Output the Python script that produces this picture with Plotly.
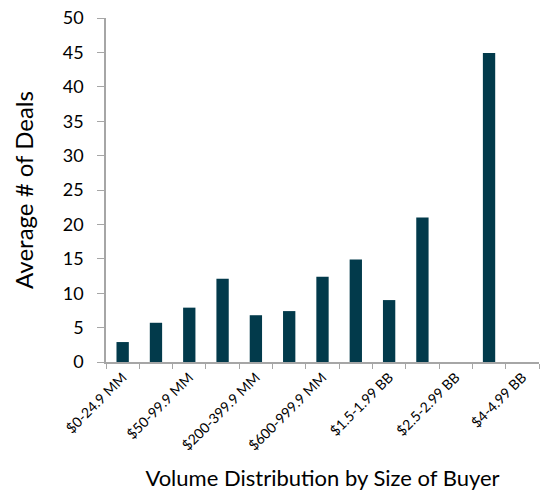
import plotly.graph_objects as go

# Buyer size buckets (every other label is shown on the axis)
categories = [
    "$0-24.9 MM", "$25-49.9 MM", "$50-99.9 MM", "$100-199.9 MM",
    "$200-399.9 MM", "$400-599.9 MM", "$600-999.9 MM", "$1-1.49 BB",
    "$1.5-1.99 BB", "$2-2.49 BB", "$2.5-2.99 BB", "$3-3.99 BB", "$4-4.99 BB",
]
avg_deals = [2.9, 5.7, 7.9, 12.1, 6.8, 7.4, 12.4, 14.9, 9.0, 21.0, None, 44.9, None]
tick_text = [c if i % 2 == 0 else "" for i, c in enumerate(categories)]

bar_color = "#023a4b"
axis_color = "#a6a6a6"
font_family = "Lato, Calibri, Carlito, sans-serif"

fig = go.Figure(
    go.Bar(
        x=categories,
        y=avg_deals,
        marker=dict(color=bar_color, line=dict(width=0)),
    )
)

fig.update_layout(
    width=544,
    height=491,
    margin=dict(l=106, r=5, t=18, b=129),
    paper_bgcolor="white",
    plot_bgcolor="white",
    bargap=0.63,
    showlegend=False,
    font=dict(family=font_family, color="#000000"),
)

fig.update_xaxes(
    type="category",
    tickmode="array",
    tickvals=categories,
    ticktext=tick_text,
    tickson="boundaries",
    tickangle=-45,
    ticks="outside",
    ticklen=5,
    tickcolor=axis_color,
    tickfont=dict(size=14, family=font_family),
    showline=True,
    linecolor=axis_color,
    linewidth=1.5,
    showgrid=False,
    automargin=False,
    title=dict(text="Volume Distribution by Size of Buyer",
               font=dict(size=22, family=font_family), standoff=22),
)

fig.update_yaxes(
    range=[0, 50],
    dtick=5,
    ticks="outside",
    ticklen=7,
    tickcolor=axis_color,
    tickfont=dict(size=18, family=font_family),
    ticklabelstandoff=10,
    showline=True,
    linecolor=axis_color,
    linewidth=1.5,
    showgrid=False,
    zeroline=False,
    automargin=False,
    title=dict(text="Average # of Deals",
               font=dict(size=24, family=font_family), standoff=22),
)

fig.write_html("out.html")
